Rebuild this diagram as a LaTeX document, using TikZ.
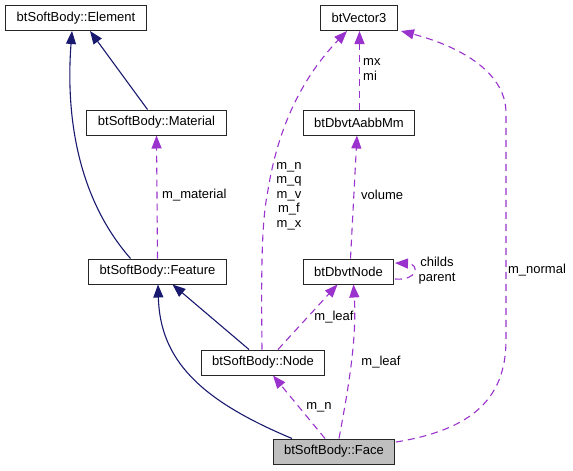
\documentclass[tikz,border=0pt]{standalone}
\usepackage{fontspec}
\setmainfont{Liberation Sans}
\usetikzlibrary{arrows.meta}
\definecolor{inhcol}{HTML}{191970}
\definecolor{usecol}{HTML}{9A32CD}
\definecolor{facefill}{HTML}{BFBFBF}
\tikzset{
  inh/.style={draw=inhcol,line width=1.1pt,-{Triangle[length=13pt,width=10pt,fill=inhcol]}},
  use/.style={draw=usecol,line width=1.1pt,dash pattern=on 7pt off 5pt,-{Triangle[length=13pt,width=10pt,fill=usecol]}}
}
\begin{document}
\begin{tikzpicture}[x=1pt,y=-1pt,font=\fontsize{13}{14.5}\selectfont]
      \useasboundingbox (0,0) rectangle (573,471);
      \begin{scope}[every node/.style={draw=black!85,line width=1pt,fill=white,minimum height=25pt,inner xsep=11pt,inner ysep=0pt}]
        \node (element) at (76,18) {btSoftBody::Element};
        \node (material) at (156.5,122.5) {btSoftBody::Material};
        \node (feature) at (157.5,271.5) {btSoftBody::Feature};
        \node (node) at (263,362.5) {btSoftBody::Node};
        \node[fill=facefill] (face) at (334,451.5) {btSoftBody::Face};
        \node (vector) at (359,18) {btVector3};
        \node (aabbmm) at (359,122.5) {btDbvtAabbMm};
        \node (dbvt) at (348.5,271.5) {btDbvtNode};
      \end{scope}
      \begin{scope}[every node/.style={inner sep=0pt,align=left}]
        \draw[inh] ([xshift=-27pt]feature.north) .. controls (75,195) and (66,110) .. ([xshift=-4pt]element.south);
        \draw[inh] ([xshift=-9pt]material.north) -- ([xshift=14pt]element.south);
        \draw[inh] ([xshift=-14pt]node.north) -- ([xshift=15pt]feature.south);
        \draw[inh] ([xshift=-42pt]face.north) .. controls (200,400) and (160,360) .. ([xshift=0.5pt]feature.south);
        \draw[use] (feature.north) -- (material.south);
        \draw[use] ([xshift=-1pt]node.north) .. controls (261,260) and (262,220) .. (268,190) .. controls (276,140) and (295,85) .. ([xshift=-12pt]vector.south);
        \draw[use] ([xshift=0.5pt]aabbmm.north) -- ([xshift=0.5pt]vector.south);
        \draw[use] ([xshift=2pt]dbvt.north) -- ([xshift=-2pt]aabbmm.south);
        \draw[use] (395,279) .. controls (418,281) and (420,264) .. (395,263);
        \draw[use] ([xshift=15pt]node.north) -- ([xshift=-11pt]dbvt.south);
        \draw[use] ([xshift=5pt]face.north) .. controls (348,390) and (357,340) .. ([xshift=5pt]dbvt.south);
        \draw[use] ([xshift=-9pt]face.north) -- ([xshift=10pt]node.south);
        \draw[use] (396,442) .. controls (470,430) and (506,400) .. (506,340) -- (506,113) .. controls (506,70) and (455,45) .. ([xshift=3pt]vector.south east);
        \node[anchor=west] (lmat) at (162,195) {m\_material};
        \node[align=center] (lnqvfx) at (289,196) {m\_n\\m\_q\\m\_v\\m\_f\\m\_x};
        \node[anchor=west] (lmxmi) at (363,69.5) {mx\\mi};
        \node[anchor=west] (lvol) at (361,195) {volume};
        \node[align=center] (lchild) at (437,270.5) {childs\\parent};
        \node (lleafa) at (334,317) {m\_leaf};
        \node (lleafb) at (381,362) {m\_leaf};
        \node (ln) at (319,407) {m\_n};
        \node (lnormal) at (537,270) {m\_normal};
      \end{scope}
    \end{tikzpicture}
\end{document}
